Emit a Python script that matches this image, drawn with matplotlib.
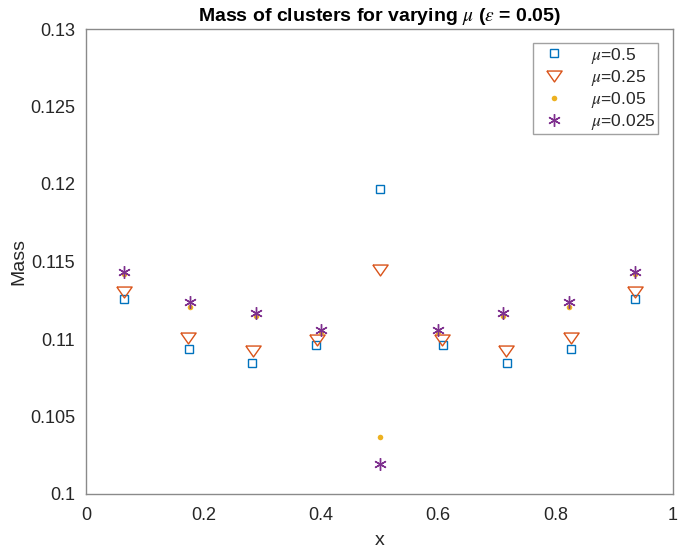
import matplotlib
matplotlib.use("Agg")
import matplotlib.pyplot as plt
import numpy as np

plt.rcParams['font.family'] = ['Liberation Sans', 'DejaVu Sans']
plt.rcParams['mathtext.fontset'] = 'stix'

# Data
x_05 = [0.064, 0.175, 0.282, 0.391, 0.500, 0.609, 0.718, 0.826, 0.936]
m_05 = [0.1126, 0.10937, 0.10847, 0.10963, 0.11970, 0.10963, 0.10847, 0.10937, 0.1126]

x_025 = [0.064, 0.174, 0.284, 0.393, 0.500, 0.607, 0.716, 0.826, 0.936]
m_025 = [0.11305, 0.11004, 0.10922, 0.10992, 0.11447, 0.10992, 0.10922, 0.11004, 0.11305]

x_005 = [0.064, 0.177, 0.289, 0.400, 0.500, 0.600, 0.711, 0.823, 0.936]
m_005 = [0.11420, 0.11205, 0.11146, 0.11047, 0.10370, 0.11047, 0.11146, 0.11205, 0.11420]

x_0025 = [0.064, 0.177, 0.290, 0.401, 0.500, 0.599, 0.710, 0.823, 0.936]
m_0025 = [0.11434, 0.11241, 0.11170, 0.11058, 0.10194, 0.11058, 0.11170, 0.11241, 0.11434]

labels = [r'$\mu$=0.5', r'$\mu$=0.25', r'$\mu$=0.05', r'$\mu$=0.025']
yticks = [0.1, 0.105, 0.11, 0.115, 0.12, 0.125, 0.13]
xticks = [0, 0.2, 0.4, 0.6, 0.8, 1]

fig = plt.figure(figsize=(6.78, 5.49), dpi=100)
ax = fig.add_axes([86/678, 1-494/549, 587/678, 465/549])

tri = [(-0.7, 0.5), (0.7, 0.5), (0.0, -0.5), (-0.7, 0.5)]

ax.plot(x_05, m_05, linestyle='none', marker='s', ms=6, mfc='none', mec='#0072BD', mew=1.0, label=labels[0])
ax.plot(x_025, m_025, linestyle='none', marker=tri, ms=11, mfc='none', mec='#D95319', mew=1.0, label=labels[1])
ax.plot(x_005, m_005, linestyle='none', marker='o', ms=4, mfc='#EDB120', mec='#EDB120', mew=0, label=labels[2])
ax.plot(x_0025, m_0025, linestyle='none', marker=(6, 2, 0), ms=9, mec='#7E2F8E', mfc='#7E2F8E', mew=1.0, label=labels[3])

ax.set_xlim(0, 1)
ax.set_ylim(0.1, 0.13)
ax.set_xticks(xticks)
ax.set_xticklabels(['0', '0.2', '0.4', '0.6', '0.8', '1'])
ax.set_yticks(yticks)
ax.set_yticklabels(['0.1', '0.105', '0.11', '0.115', '0.12', '0.125', '0.13'])
ax.tick_params(length=0, labelsize=13, labelcolor='#262626')
ax.tick_params(axis='x', pad=9)
ax.tick_params(axis='y', pad=8)

for s in ax.spines.values():
    s.set_color('#8a8a8a')
    s.set_linewidth(1.0)

ax.set_xlabel('x', fontsize=14, color='#262626', labelpad=6)
ax.set_ylabel('Mass', fontsize=14, color='#262626', labelpad=2)
ax.set_title(r'Mass of clusters for varying $\mu$ ($\epsilon$ = 0.05)', fontsize=14,
             fontweight='bold', color='black', pad=6)

leg = ax.legend(loc='upper right', bbox_to_anchor=(0.9745, 0.97), fontsize=12.5, frameon=True,
                fancybox=False, edgecolor='#8a8a8a', handlelength=2.2, handletextpad=1.0,
                borderpad=0.15, labelspacing=0.12, borderaxespad=0)
leg.get_frame().set_linewidth(1.0)
for t in leg.get_texts():
    t.set_color('#262626')

fig.savefig('out.png', dpi=100)
